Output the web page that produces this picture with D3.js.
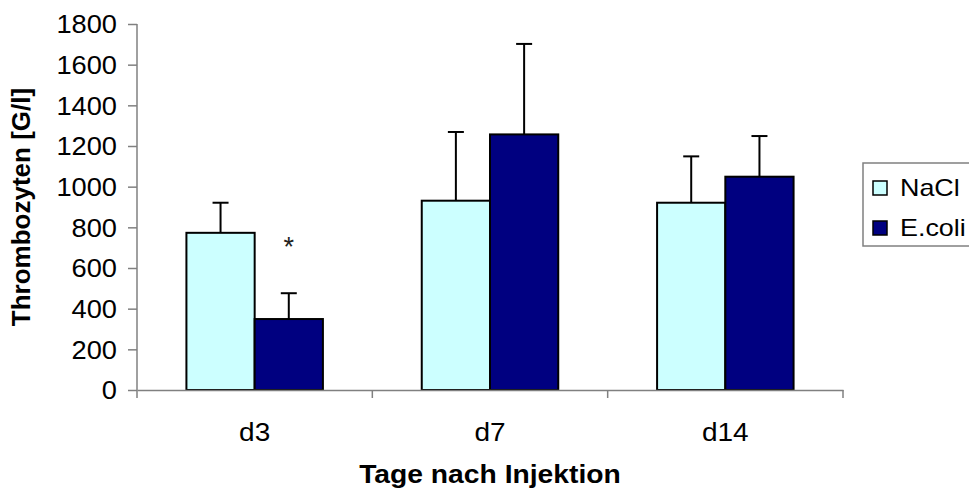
<!DOCTYPE html>
<html>
<head>
<meta charset="utf-8">
<script src="https://cdn.jsdelivr.net/npm/d3@7"></script>
<style>
	body { margin: 0; background: #fff; }
	text { font-family: Arial, "Liberation Sans", sans-serif; fill: #000; }
</style>
</head>
<body>
<svg id="chart" width="969" height="495"></svg>
<script>
// values
const days = ["d3", "d7", "d14"];
const series = ["NaCl", "E.coli"];
const nacl = [773, 931, 921];
const naclErr = [148, 338, 228];
const ecoli = [349, 1257, 1049];
const ecoliErr = [127, 445, 200];
const yTicks = [0, 200, 400, 600, 800, 1000, 1200, 1400, 1600, 1800];
const significant = [{ day: "d3", series: "E.coli", label: "*" }];

const colors = { "NaCl": "#ccffff", "E.coli": "#000080" };

const rows = [];
days.forEach(function (day, i) {
	rows.push({ day: day, series: "NaCl", value: nacl[i], err: naclErr[i] });
	rows.push({ day: day, series: "E.coli", value: ecoli[i], err: ecoliErr[i] });
});

// the original text is a bit wider than Arial, stretch it horizontally
function widen (sel, k) {
	sel.each(function () {
		const w = this.getComputedTextLength();
		d3.select(this)
			.attr("textLength", w * k)
			.attr("lengthAdjust", "spacingAndGlyphs");
	});
}

const svg = d3.select("#chart");
const margin = { left: 137, right: 126, top: 24, bottom: 105 };
const width = 969 - margin.left - margin.right;
const height = 495 - margin.top - margin.bottom;

const g = svg.append("g")
	.attr("transform", "translate(" + margin.left + "," + margin.top + ")");

const x = d3.scaleBand().domain(days).range([0, width]);
const xInner = d3.scaleBand().domain(series)
	.range([x.bandwidth() * 0.21, x.bandwidth() * 0.79]);
const y = d3.scaleLinear().domain([0, 1800]).range([height, 0]);

// bars
g.selectAll("rect.bar")
	.data(rows)
	.join("rect")
	.attr("class", "bar")
	.attr("x", d => x(d.day) + xInner(d.series))
	.attr("y", d => y(d.value))
	.attr("width", xInner.bandwidth())
	.attr("height", d => height - y(d.value))
	.attr("fill", d => colors[d.series])
	.attr("stroke", "#000")
	.attr("stroke-width", 2);

// error bars (upper only)
const errG = g.selectAll("g.err")
	.data(rows)
	.join("g")
	.attr("class", "err")
	.attr("transform", d => "translate(" + (x(d.day) + xInner(d.series) + xInner.bandwidth() / 2) + ",0)");

errG.append("line")
	.attr("y1", d => y(d.value))
	.attr("y2", d => y(d.value + d.err))
	.attr("stroke", "#000")
	.attr("stroke-width", 2);

errG.append("line")
	.attr("x1", -8).attr("x2", 8)
	.attr("y1", d => y(d.value + d.err))
	.attr("y2", d => y(d.value + d.err))
	.attr("stroke", "#000")
	.attr("stroke-width", 2);

// significance marker
g.selectAll("text.sig")
	.data(significant)
	.join("text")
	.attr("class", "sig")
	.attr("x", d => x(d.day) + xInner(d.series) + xInner.bandwidth() / 2)
	.attr("y", d => {
		const r = rows.find(r => r.day === d.day && r.series === d.series);
		return y(r.value + r.err) - 37;
	})
	.attr("text-anchor", "middle")
	.style("font-size", "27px")
	.style("fill", "#222")
	.text(d => d.label);

// y axis
const yAxis = g.append("g")
	.call(d3.axisLeft(y).tickValues(yTicks).tickFormat(d3.format("d"))
		.tickSize(9).tickPadding(11).tickSizeOuter(0));
yAxis.select(".domain").attr("stroke", "#808080").attr("stroke-width", 1.5)
	.attr("d", "M0,0V" + (height + 8));
yAxis.selectAll(".tick line").attr("stroke", "#808080").attr("stroke-width", 1.5);
yAxis.selectAll(".tick text").style("font-size", "25px").attr("dy", "0.35em")
	.call(widen, 1.09);

// x axis: labels centred under groups, tick marks at group boundaries
const xAxis = g.append("g")
	.attr("transform", "translate(0," + height + ")")
	.call(d3.axisBottom(x).tickSize(0).tickPadding(33).tickSizeOuter(0));
xAxis.select(".domain").attr("stroke", "#808080").attr("stroke-width", 1.5);
xAxis.selectAll(".tick text").style("font-size", "25px").call(widen, 1.12);

xAxis.selectAll("line.sep")
	.data(days.map(d => x(d) + x.bandwidth()))
	.join("line")
	.attr("class", "sep")
	.attr("x1", d => d).attr("x2", d => d)
	.attr("y1", 0).attr("y2", 8)
	.attr("stroke", "#808080")
	.attr("stroke-width", 1.5);

// axis titles
svg.append("text")
	.attr("x", margin.left + width / 2)
	.attr("y", 483)
	.attr("text-anchor", "middle")
	.style("font-size", "25px")
	.style("font-weight", "bold")
	.text("Tage nach Injektion")
	.call(widen, 1.13);

svg.append("text")
	.attr("transform", "translate(30," + (margin.top + height / 2) + ") rotate(-90)")
	.attr("text-anchor", "middle")
	.style("font-size", "26px")
	.style("font-weight", "bold")
	.text("Thrombozyten [G/l]");

// legend
const legend = svg.append("g").attr("transform", "translate(863,163)");
legend.append("rect")
	.attr("width", 130).attr("height", 83)
	.attr("fill", "#fff")
	.attr("stroke", "#808080")
	.attr("stroke-width", 1.5);

const item = legend.selectAll("g.item")
	.data(series)
	.join("g")
	.attr("class", "item")
	.attr("transform", (d, i) => "translate(10," + (18 + i * 40) + ")");

item.append("rect")
	.attr("width", 14).attr("height", 14)
	.attr("fill", d => colors[d])
	.attr("stroke", "#000")
	.attr("stroke-width", 1.5);

item.append("text")
	.attr("x", 27)
	.attr("y", 7)
	.attr("dy", "0.35em")
	.style("font-size", "24px")
	.text(d => d)
	.call(widen, 1.12);
</script>
</body>
</html>
